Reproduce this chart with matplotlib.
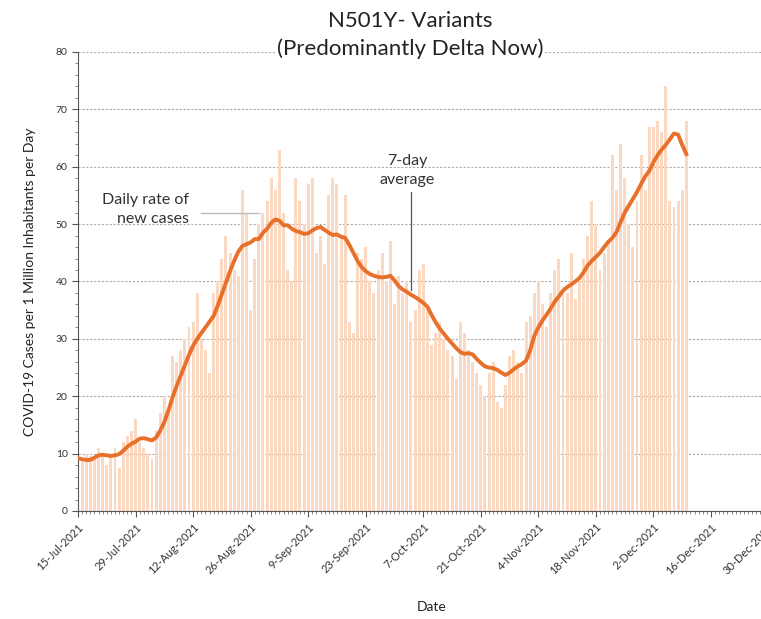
import matplotlib.pyplot as plt
import matplotlib.dates as mdates
from matplotlib.ticker import MultipleLocator
import pandas as pd

plt.rcParams['font.family'] = ['Lato', 'DejaVu Sans']

start_date = '2021-07-15'

# daily rate of new cases per 1M inhabitants
daily = [9, 8.5, 10, 9.5, 9, 11, 9.5,
         8, 10, 11, 7.5, 12, 13, 14,
         16, 12, 11, 10, 9, 14, 17,
         20, 18, 27, 26, 28, 30, 32,
         33, 38, 30, 28, 24, 38, 40,
         44, 48, 45, 42, 41, 56, 52,
         35, 44, 50, 52, 54, 58, 56,
         63, 52, 42, 40, 58, 54, 50,
         57, 58, 45, 48, 43, 55, 58,
         57, 48, 55, 33, 31, 45, 44,
         46, 40, 38, 42, 45, 40, 47,
         36, 41, 38, 40, 33, 35, 42,
         43, 35, 29, 31, 33, 30, 28,
         27, 23, 33, 31, 28, 26, 24,
         22, 20, 24, 26, 19, 18, 22,
         27, 28, 26, 24, 33, 34, 38,
         40, 36, 32, 38, 42, 44, 39,
         38, 45, 37, 40, 44, 48, 54,
         50, 42, 45, 47, 62, 56, 64,
         58, 50, 46, 54, 62, 56, 67,
         67, 68, 66, 74, 54, 53, 54,
         56, 68]

# 7-day average
avg7 = [9.2, 9.0, 8.9, 8.9, 9.3, 9.7, 9.8,
        9.7, 9.6, 9.7, 9.9, 10.5, 11.2, 11.7,
        12.1, 12.6, 12.7, 12.5, 12.3, 12.8, 14.0,
        15.5, 17.5, 19.8, 21.8, 23.6, 25.4, 27.2,
        28.8, 30.0, 31.0, 32.0, 33.0, 34.0, 35.8,
        37.8, 39.8, 41.8, 43.6, 45.2, 46.2, 46.5,
        46.8, 47.4, 47.4, 48.5, 49.2, 50.2, 50.8,
        50.6, 49.8, 49.8, 49.2, 48.8, 48.6, 48.3,
        48.4, 48.9, 49.3, 49.5, 49.0, 48.5, 48.1,
        48.2, 47.8, 47.6, 46.4, 45.0, 43.6, 42.5,
        41.8, 41.3, 41.0, 40.8, 40.7, 40.8, 41.0,
        40.2, 39.2, 38.6, 38.2, 37.7, 37.3, 36.8,
        36.3, 35.6, 34.2, 32.9, 31.8, 30.9, 30.0,
        29.2, 28.4, 27.7, 27.4, 27.5, 27.3, 26.5,
        25.8, 25.2, 25.0, 24.9, 24.6, 24.1, 23.7,
        24.1, 24.7, 25.2, 25.6, 26.2, 28.0, 30.5,
        32.0, 33.2, 34.2, 35.3, 36.5, 37.4, 38.4,
        39.0, 39.5, 40.0, 40.6, 41.6, 42.8, 43.6,
        44.3, 45.0, 46.0, 46.9, 47.6, 48.6, 50.3,
        52.0, 53.2, 54.4, 55.6, 57.0, 58.3, 59.3,
        60.8, 62.0, 63.0, 63.8, 64.8, 65.8, 65.6,
        63.8, 62.2]

tick_dates = ['2021-07-15', '2021-07-29', '2021-08-12', '2021-08-26', '2021-09-09',
              '2021-09-23', '2021-10-07', '2021-10-21', '2021-11-04', '2021-11-18',
              '2021-12-02', '2021-12-16', '2021-12-30']
tick_labels = ['15-Jul-2021', '29-Jul-2021', '12-Aug-2021', '26-Aug-2021', '9-Sep-2021',
               '23-Sep-2021', '7-Oct-2021', '21-Oct-2021', '4-Nov-2021', '18-Nov-2021',
               '2-Dec-2021', '16-Dec-2021', '30-Dec-2021']

dates = pd.date_range(start_date, periods=len(daily), freq='D')

fig = plt.figure(figsize=(7.61, 6.19), dpi=100)
ax = fig.add_axes([0.1025, 0.1745, 0.929, 0.7415])

ax.bar(dates, daily, width=0.72, color='#fad8c2', zorder=2)
ax.plot(dates, avg7, color='#e8702a', lw=2.8, zorder=3)

ax.set_ylim(0, 80)
ax.set_xlim(pd.Timestamp(start_date), pd.Timestamp('2022-01-03'))
ax.yaxis.set_major_locator(MultipleLocator(10))
ax.yaxis.set_minor_locator(MultipleLocator(2))
ax.xaxis.set_minor_locator(mdates.DayLocator())
ax.set_xticks(pd.to_datetime(tick_dates))
ax.set_xticklabels(tick_labels, rotation=45, ha='right', rotation_mode='anchor',
                   fontsize=8, color='#333333')
ax.tick_params(axis='y', labelsize=7.5, labelcolor='#333333', length=4, color='#555555')
ax.tick_params(axis='x', length=4, color='#555555')
ax.tick_params(which='minor', length=2, color='#777777')

ax.grid(axis='y', linestyle=(0, (2, 1.5)), color='#aaaaaa', lw=0.8, zorder=0)
ax.set_axisbelow(True)
for s in ['top', 'right']:
    ax.spines[s].set_visible(False)
ax.spines['left'].set_color('#555555')
ax.spines['bottom'].set_color('#555555')

ax.set_ylabel('COVID-19 Cases per 1 Million Inhabitants per Day', fontsize=10,
              color='#222222', labelpad=14)
ax.set_xlabel('Date', fontsize=10, color='#222222', labelpad=17)

fig.text(0.539, 0.983, 'N501Y- Variants\n(Predominantly Delta Now)', ha='center', va='top',
         fontsize=16, color='#222222', linespacing=1.45,
         bbox=dict(facecolor='white', edgecolor='none', pad=1))

# annotations
ax.text(pd.Timestamp('2021-08-11'), 52.6, 'Daily rate of\nnew cases', ha='right', va='center',
        fontsize=11.5, color='#333333', linespacing=1.45)
ax.plot([pd.Timestamp('2021-08-14'), pd.Timestamp('2021-08-28')], [51.9, 51.9],
        color='#bbbbbb', lw=1, zorder=4)
ax.text(pd.Timestamp('2021-10-03'), 59.4, '7-day\naverage', ha='center', va='center',
        fontsize=11.5, color='#333333', linespacing=1.45)
ax.plot([pd.Timestamp('2021-10-04'), pd.Timestamp('2021-10-04')], [55.6, 38.6],
        color='#555555', lw=0.9, zorder=4)

fig.savefig('out.png', dpi=100)
